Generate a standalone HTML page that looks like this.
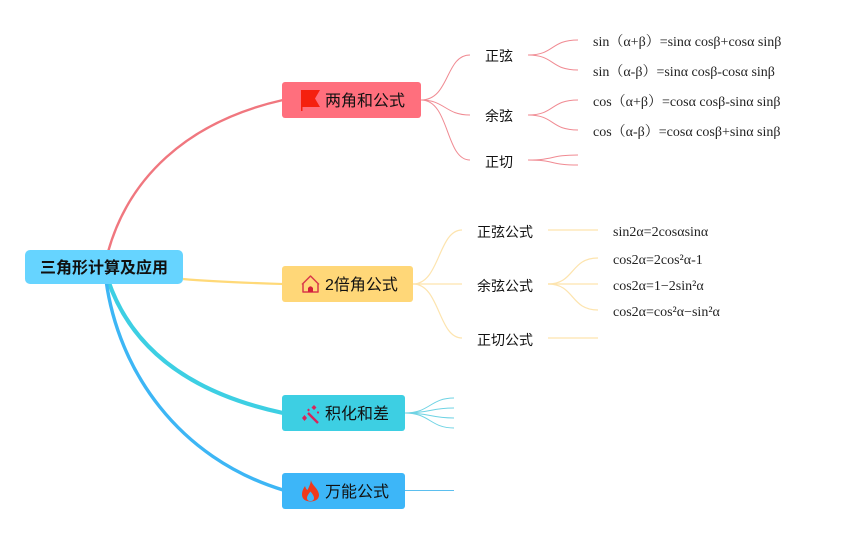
<!DOCTYPE html>
<html><head><meta charset="utf-8"><style>
html,body{margin:0;padding:0;background:#fff}
#c{position:relative;width:842px;height:533px;overflow:hidden;background:#fff;font-family:"Liberation Sans","Noto Sans CJK SC",sans-serif;color:#111}
svg{position:absolute;left:0;top:0}
.b{position:absolute;border-radius:3px;height:36px;line-height:39px;font-size:16px;box-sizing:border-box;white-space:nowrap}
.t{position:absolute;font-size:14px;line-height:20px;white-space:nowrap;color:#111}
.f{position:absolute;font-family:"Liberation Serif","Noto Serif CJK SC",serif;font-size:14px;line-height:20px;white-space:nowrap;color:#222}
</style></head><body><div id="c">
<svg width="842" height="533" viewBox="0 0 842 533" fill="none">
<path d="M108 252C128 180 185 122 283 100" stroke="#F0777F" stroke-width="2.4"/>
<path d="M183 279C215 282 250 283 283 284" stroke="#FFD978" stroke-width="2.2"/>
<path d="M108 280C130 345 185 392 283 413" stroke="#3DCFE3" stroke-width="4.200"/>
<path d="M106 280C118 370 178 458 283 490" stroke="#3DB6F5" stroke-width="3.400"/>
<g stroke="#F08A92" stroke-width="1">
<path d="M421 100C450 100 445 55 470 55"/><path d="M421 100C445 100 445 115 470 115"/><path d="M421 100C450 100 445 160 470 160"/>
<path d="M528 55C555 55 550 40 578 40"/><path d="M528 55C555 55 550 70 578 70"/>
<path d="M528 115C555 115 550 100 578 100"/><path d="M528 115C555 115 550 130 578 130"/>
<path d="M528 160C555 160 550 155 578 155"/><path d="M528 160C555 160 550 165 578 165"/>
</g>
<g stroke="#FDE4AE" stroke-width="1.2">
<path d="M413 284C440 284 438 230 462 230"/><path d="M413 284H462"/><path d="M413 284C440 284 438 338 462 338"/>
<path d="M548 230H598"/><path d="M548 338H598"/><path d="M548 284H598"/>
<path d="M548 284C575 284 570 258 598 258"/><path d="M548 284C575 284 570 310 598 310"/>
</g>
<g stroke="#6FD3E4" stroke-width="1">
<path d="M405 413C430 413 430 398 454 398"/><path d="M405 413C430 413 430 408 454 408"/><path d="M405 413C430 413 430 418 454 418"/><path d="M405 413C430 413 430 428 454 428"/>
</g>
<path d="M405 490.500H454" stroke="#5BBFEF" stroke-width="1"/>
</svg>
<div class="b" style="left:25px;top:250px;width:158px;height:34px;background:#66D4FF;border-radius:5px;font-weight:bold;line-height:38px;text-align:center">三角形计算及应用</div>
<div class="b" style="left:282px;top:82px;width:139px;background:#FF6F7D;padding-left:43px;line-height:40px">两角和公式</div>
<div class="b" style="left:282px;top:266px;width:131px;background:#FFD778;padding-left:43px">2倍角公式</div>
<div class="b" style="left:282px;top:395px;width:123px;background:#3DCFE3;padding-left:43px;line-height:40px">积化和差</div>
<div class="b" style="left:282px;top:473px;width:123px;background:#3DB6F8;padding-left:43px">万能公式</div>
<svg width="842" height="533" viewBox="0 0 842 533" fill="none">
<path d="M301 90H320L315 98.500L320 107H302.500V111H301Z" fill="#F5200F"/>
<path d="M303 283.500V292H318V283.500M302 284.500L310.500 276L319 284.500" stroke="#D9394A" stroke-width="1.500" stroke-linejoin="round"/>
<path d="M308 292V288Q310.500 284.500 313 288V292Z" fill="#D41F3A"/>
<path d="M308 413L318 423" stroke="#D9255A" stroke-width="2.400"/>
<path d="M304.500 415L307 418L304.500 421L302 418ZM314 405L316.500 407.500L314 410L311.500 407.500ZM308.500 408.500L310 410L308.500 411.500L307 410ZM318 411L319.200 412.500L318 414L316.800 412.500Z" fill="#D9255A"/>
<path d="M311 480C311.500 485 319 489 319 495C319 499 315.500 501.500 310.500 501.500C305.500 501.500 302 499 302 494.500C302 491 303.500 488.500 305 486C305.500 488 306.500 489.500 307.500 490C309 487 310.500 484 311 480Z" fill="#F0391C"/>
<path d="M310.500 491.500C312.500 494 314 496 314 498C314 500 312.500 501 310.500 501C308.500 501 307 500 307 498C307 496 308.500 494 310.500 491.500Z" fill="#3DB6F8"/>
</svg>
<div class="t" style="left:485px;top:46px">正弦</div>
<div class="t" style="left:485px;top:106px">余弦</div>
<div class="t" style="left:485px;top:152px">正切</div>
<div class="t" style="left:477px;top:222px">正弦公式</div>
<div class="t" style="left:477px;top:276px">余弦公式</div>
<div class="t" style="left:477px;top:330px">正切公式</div>
<div class="f" style="left:593px;top:33px">sin（α+β）=sinα cosβ+cosα sinβ</div>
<div class="f" style="left:593px;top:63px">sin（α-β）=sinα cosβ-cosα sinβ</div>
<div class="f" style="left:593px;top:93px">cos（α+β）=cosα cosβ-sinα sinβ</div>
<div class="f" style="left:593px;top:123px">cos（α-β）=cosα cosβ+sinα sinβ</div>
<div class="f" style="left:613px;top:223px">sin2α=2cosαsinα</div>
<div class="f" style="left:613px;top:251px">cos2α=2cos²α-1</div>
<div class="f" style="left:613px;top:277px">cos2α=1−2sin²α</div>
<div class="f" style="left:613px;top:303px">cos2α=cos²α−sin²α</div>
</div></body></html>
